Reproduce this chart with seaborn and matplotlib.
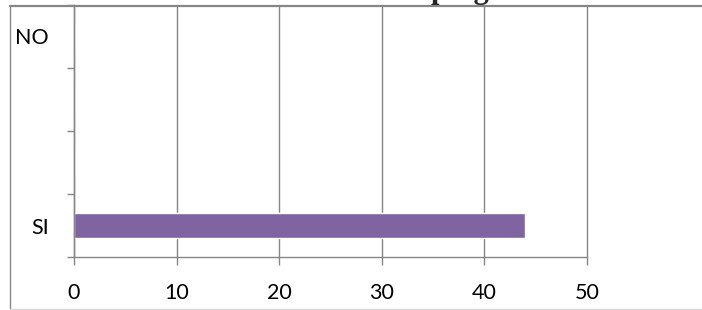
import numpy as np
import pandas as pd
import matplotlib
matplotlib.use("Agg")
import matplotlib.pyplot as plt
from matplotlib.lines import Line2D
import seaborn as sns

# data
categorias = ["NO", " ", "  ", "SI"]
valores = [0, 0, 0, 44]
x_ticks = [0, 10, 20, 30, 40, 50]

df = pd.DataFrame({"respuesta": categorias, "valor": valores})

sns.set_theme(style="white")
plt.rcParams["font.family"] = ["Lato", "DejaVu Sans"]

fig = plt.figure(figsize=(7.02, 3.10), dpi=100)
ax = fig.add_axes([74 / 702, 1 - 257 / 310, 513 / 702, 252 / 310])

sns.barplot(data=df, x="valor", y="respuesta", orient="h", color="#8064A2",
            width=0.4, saturation=1, ax=ax)

grid_c = "#868686"
ax.set_xlim(0, 50)
ax.set_ylim(len(categorias) - 0.5, -0.5)
ax.set_xticks(x_ticks)
ax.xaxis.grid(True, color=grid_c, linewidth=1)
for gl in ax.get_xgridlines():
    gl.set_clip_on(False)
ax.set_axisbelow(True)
ax.set_xlabel("")
ax.set_ylabel("")

for side in ["top", "right"]:
    ax.spines[side].set_visible(False)
for side in ["left", "bottom"]:
    ax.spines[side].set_color(grid_c)
    ax.spines[side].set_linewidth(1)

# category boundary ticks on the y axis, like Excel
ax.set_yticks(np.arange(-0.5, len(categorias), 1.0), minor=True)
ax.tick_params(axis="y", which="major", length=0, pad=18, labelsize=15.5, labelcolor="black")
ax.tick_params(axis="y", which="minor", left=True, length=5, width=1, color=grid_c)
ax.tick_params(axis="x", which="major", bottom=True, length=6, width=1, color=grid_c,
               pad=13, labelsize=15.5, labelcolor="black")

# chart frame lines and the title cut off at the top
fig.add_artist(Line2D([10 / 702, 1], [1 - 5.5 / 310] * 2, color=grid_c, linewidth=1.6))
fig.add_artist(Line2D([10 / 702] * 2, [1 - 5.5 / 310, 1 - 308 / 310], color=grid_c, linewidth=1))
fig.add_artist(Line2D([10 / 702, 1], [1 - 308.5 / 310] * 2, color="#D9D9D9", linewidth=1))
fig.text(431 / 702, 1 + 2 / 310, "pregunta", ha="left", va="baseline",
         fontsize=22, fontweight="bold", family="Liberation Serif")

fig.savefig("out.png", dpi=100)
